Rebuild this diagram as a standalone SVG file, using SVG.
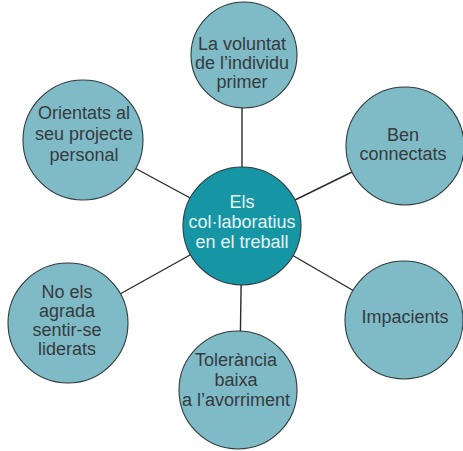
<svg xmlns="http://www.w3.org/2000/svg" width="463" height="451" viewBox="0 0 463 451">
  <style>
    .bg { fill: #ffffff; }
    .link { stroke: #2b2b2b; stroke-width: 1.4; fill: none; }
    .leaf circle { fill: #7fbac7; stroke: #2e3a3c; stroke-width: 1.1; }
    .hub circle { fill: #1696a5; stroke: #2e3a3c; stroke-width: 1.1; }
    text { font-family: "Liberation Sans", Arial, sans-serif; font-size: 18px; text-anchor: middle; }
    .leaf text { fill: #363b3d; }
    .hub text { fill: #e6f4f6; }
  </style>
  <rect class="bg" x="0" y="0" width="463" height="451"/>

  <!-- spokes from the hub to each surrounding node -->
  <g id="connectors">
    <line class="link" x1="242" y1="226" x2="242" y2="100"/>
    <line class="link" x1="242" y1="226" x2="405" y2="146"/>
    <line class="link" x1="242" y1="226" x2="404" y2="320"/>
    <line class="link" x1="242" y1="226" x2="240" y2="360"/>
    <line class="link" x1="242" y1="226" x2="68" y2="323"/>
    <line class="link" x1="242" y1="226" x2="83" y2="140"/>
  </g>

  <g id="node-top" class="leaf">
    <circle cx="244" cy="55" r="53"/>
    <text x="242" y="50">La voluntat</text>
    <text x="242" y="69">de l’individu</text>
    <text x="242" y="88">primer</text>
  </g>

  <g id="node-right-top" class="leaf">
    <circle cx="405" cy="146" r="59"/>
    <text x="403" y="141">Ben</text>
    <text x="403" y="160">connectats</text>
  </g>

  <g id="node-right-bottom" class="leaf">
    <circle cx="404" cy="320" r="59"/>
    <text x="405" y="323">Impacients</text>
  </g>

  <g id="node-bottom" class="leaf">
    <circle cx="238" cy="390" r="59"/>
    <text x="236" y="366">Tolerància</text>
    <text x="236" y="386">baixa</text>
    <text x="236" y="406">a l’avorriment</text>
  </g>

  <g id="node-left-bottom" class="leaf">
    <circle cx="68" cy="323" r="60"/>
    <text x="67" y="298">No els</text>
    <text x="67" y="317">agrada</text>
    <text x="67" y="336">sentir-se</text>
    <text x="67" y="355">liderats</text>
  </g>

  <g id="node-left-top" class="leaf">
    <circle cx="83" cy="140" r="60"/>
    <text x="84" y="119">Orientats al</text>
    <text x="84" y="140">seu projecte</text>
    <text x="84" y="161">personal</text>
  </g>

  <g id="node-hub" class="hub">
    <circle cx="242" cy="226" r="59"/>
    <text x="242" y="208">Els</text>
    <text x="242" y="228">col·laboratius</text>
    <text x="242" y="248">en el treball</text>
  </g>
</svg>
